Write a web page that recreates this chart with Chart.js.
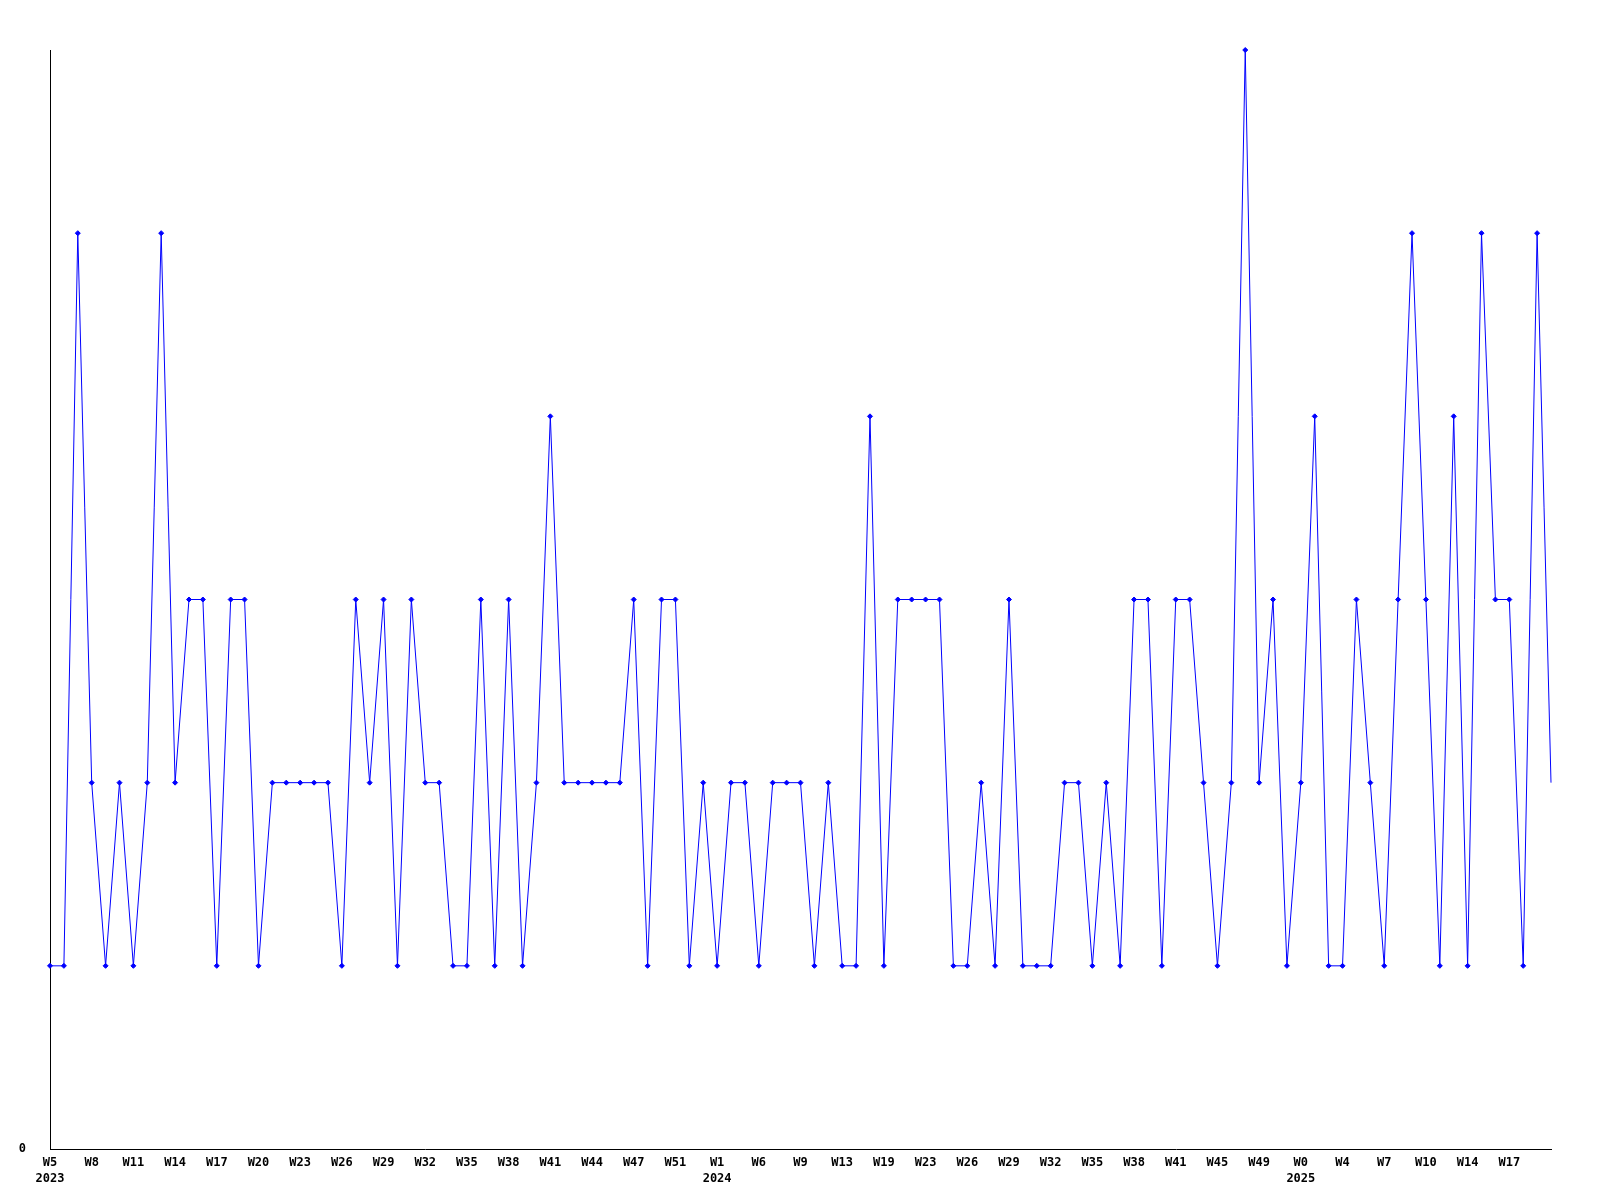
<!DOCTYPE html>
<html>
<head>
<meta charset="utf-8">
<title>Weekly count</title>
<script src="https://cdn.jsdelivr.net/npm/chart.js@4.4.1/dist/chart.umd.min.js"></script>
<style>
  html, body { margin: 0; padding: 0; background: #fff; }
  #chart { display: block; }
</style>
</head>
<body>
<canvas id="chart" width="1600" height="1200"></canvas>
<script>
// weekly values, one per point (last week still open, drawn without a marker)
const counts = [
  1, 1, 5, 2, 1, 2, 1, 2, 5, 2, 3, 3, 1, 3, 3, 1, 2, 2, 2, 2,
  2, 1, 3, 2, 3, 1, 3, 2, 2, 1, 1, 3, 1, 3, 1, 2, 4, 2, 2, 2,
  2, 2, 3, 1, 3, 3, 1, 2, 1, 2, 2, 1, 2, 2, 2, 1, 2, 1, 1, 4,
  1, 3, 3, 3, 3, 1, 1, 2, 1, 3, 1, 1, 1, 2, 2, 1, 2, 1, 3, 3,
  1, 3, 3, 2, 1, 2, 6, 2, 3, 1, 2, 4, 1, 1, 3, 2, 1, 3, 5, 3,
  1, 4, 1, 5, 3, 3, 1, 5, 2
];

// tick labels, one for every third point
const weekTicks = [
  'W5', 'W8', 'W11', 'W14', 'W17', 'W20', 'W23', 'W26', 'W29', 'W32',
  'W35', 'W38', 'W41', 'W44', 'W47', 'W51', 'W1', 'W6', 'W9', 'W13',
  'W19', 'W23', 'W26', 'W29', 'W32', 'W35', 'W38', 'W41', 'W45', 'W49',
  'W0', 'W4', 'W7', 'W10', 'W14', 'W17'
];
const yearTicks = ['2023', '', '', '', '', '', '', '', '', '',
  '', '', '', '', '', '', '2024', '', '', '',
  '', '', '', '', '', '', '', '', '', '',
  '2025', '', '', '', '', ''];
const tickEvery = 3;
const yMax = 6;

const categories = counts.map((v, i) => i);
const radii = counts.map((v, i) => (i === counts.length - 1 ? 0 : 2.5));

new Chart(document.getElementById('chart'), {
  type: 'line',
  data: {
    labels: categories,
    datasets: [{
      data: counts,
      borderColor: '#0000ff',
      backgroundColor: '#0000ff',
      borderWidth: 1,
      pointStyle: 'rectRot',
      pointRadius: radii,
      pointBorderWidth: 1,
      pointHoverRadius: 0,
      tension: 0,
      clip: false
    }]
  },
  options: {
    responsive: false,
    animation: false,
    layout: { padding: { top: 50, right: 49, left: 0, bottom: 0 } },
    plugins: {
      legend: { display: false },
      tooltip: { enabled: false },
      title: { display: false }
    },
    scales: {
      x: {
        type: 'category',
        offset: false,
        grid: { display: false, drawTicks: false },
        border: { display: true, color: '#000', width: 1 },
        afterFit: s => { s.height = 51; },
        ticks: {
          autoSkip: false,
          maxRotation: 0,
          minRotation: 0,
          padding: 6,
          color: '#000',
          font: { family: '"DejaVu Sans Mono", monospace', size: 12, weight: 'bold', lineHeight: 1.33 },
          callback: (value, index) => {
            if (index % tickEvery !== 0) return null;
            const k = index / tickEvery;
            if (k >= weekTicks.length) return null;
            return yearTicks[k] ? [weekTicks[k], yearTicks[k]] : weekTicks[k];
          }
        }
      },
      y: {
        min: 0,
        max: yMax,
        grid: { display: false, drawTicks: false },
        border: { display: true, color: '#000', width: 1 },
        afterFit: s => { s.width = 50; },
        afterBuildTicks: s => { s.ticks = [{ value: 0 }]; },
        ticks: {
          padding: 24,
          color: '#000',
          font: { family: '"DejaVu Sans Mono", monospace', size: 12, weight: 'bold' },
          callback: v => String(v)
        }
      }
    }
  }
});
</script>
</body>
</html>
